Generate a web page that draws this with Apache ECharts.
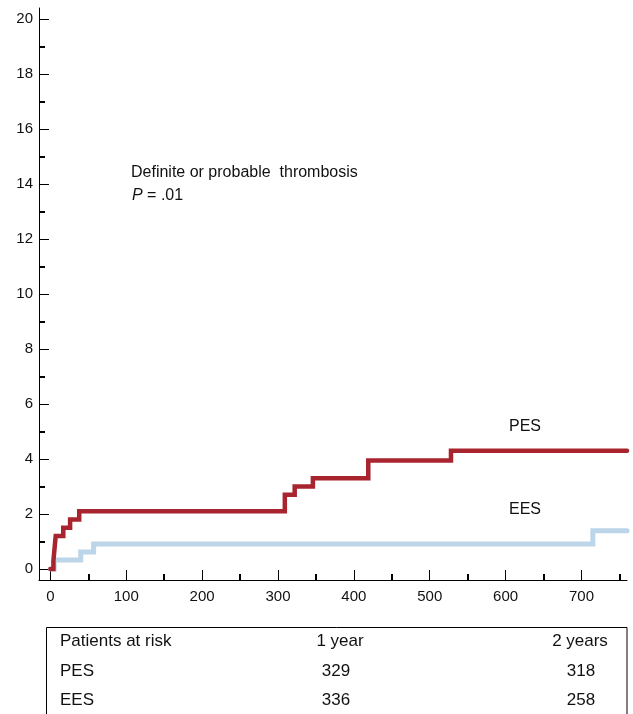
<!DOCTYPE html>
<html>
<head>
<meta charset="utf-8">
<script src="https://cdn.jsdelivr.net/npm/echarts@6/dist/echarts.min.js"></script>
<style>
html,body{margin:0;padding:0;background:#fff;}
#chart{width:633px;height:714px;}
</style>
</head>
<body>
<div id="chart"></div>
<script>
// Kaplan-Meier style cumulative incidence (%) of definite or probable thrombosis
const pesDays  = [0, 4, 5, 6, 7, 17, 26, 38, 309, 322, 346, 419, 528, 760];
const pesRates = [0, 0.3, 0.6, 0.9, 1.2, 1.5, 1.8, 2.1, 2.7, 3.0, 3.3, 3.95, 4.3, 4.3];
const eesDays  = [0, 5, 40, 57, 715, 760];
const eesRates = [0, 0.33, 0.62, 0.91, 1.39, 1.39];

const xMajorTicks = [0, 100, 200, 300, 400, 500, 600, 700];
const xMinorTicks = [50, 150, 250, 350, 450, 550, 650, 750];
const yMajorTicks = [0, 2, 4, 6, 8, 10, 12, 14, 16, 18, 20];
const yMinorTicks = [1, 3, 5, 7, 9, 11, 13, 15, 17, 19];

const riskHeader = ['Patients at risk', '1 year', '2 years'];
const riskGroups = ['PES', 'EES'];
const riskYear1  = [329, 336];
const riskYear2  = [318, 258];

const FONT = "'Liberation Sans', Arial, Helvetica, sans-serif";
const RED = '#a8242f';
const BLUE = '#bcd5e9';

const pesData = pesDays.map((d, i) => [d, pesRates[i]]);
const eesData = eesDays.map((d, i) => [d, eesRates[i]]);

const chart = echarts.init(document.getElementById('chart'), null, {renderer: 'canvas'});

const xRange = {min: -15, max: 760};
const yRange = {min: -0.4, max: 20.4};

const tableTop = 627;
const rowY = [641, 671, 700];
const colX = [60, 340, 580];
const TF = '17px ' + FONT;

const graphics = [
  {type: 'rect', shape: {x: 46.5, y: tableTop + 0.5, width: 580.5, height: 120},
   style: {fill: 'none', stroke: '#000', lineWidth: 1}, silent: true},
  {type: 'text', x: 131, y: 173, style: {text: 'Definite or probable  thrombosis', font: '16px ' + FONT, fill: '#111', textVerticalAlign: 'middle'}},
  {type: 'text', x: 132, y: 196, style: {
      text: '{i|P} = .01', font: '16px ' + FONT, fill: '#111', textVerticalAlign: 'middle',
      rich: {i: {fontStyle: 'italic', fontSize: 16, fontFamily: FONT}}}},
  {type: 'text', x: 525, y: 427, style: {text: 'PES', font: '16px ' + FONT, fill: '#111', textAlign: 'center', textVerticalAlign: 'middle'}},
  {type: 'text', x: 525, y: 510, style: {text: 'EES', font: '16px ' + FONT, fill: '#111', textAlign: 'center', textVerticalAlign: 'middle'}},
  {type: 'text', x: colX[0], y: rowY[0], style: {text: riskHeader[0], font: TF, fill: '#111', textVerticalAlign: 'middle'}},
  {type: 'text', x: colX[1], y: rowY[0], style: {text: riskHeader[1], font: TF, fill: '#111', textAlign: 'center', textVerticalAlign: 'middle'}},
  {type: 'text', x: colX[2], y: rowY[0], style: {text: riskHeader[2], font: TF, fill: '#111', textAlign: 'center', textVerticalAlign: 'middle'}}
];
riskGroups.forEach((g, i) => {
  graphics.push({type: 'text', x: colX[0], y: rowY[i + 1], style: {text: g, font: TF, fill: '#111', textVerticalAlign: 'middle'}});
  graphics.push({type: 'text', x: colX[1] - 4, y: rowY[i + 1], style: {text: String(riskYear1[i]), font: TF, fill: '#111', textAlign: 'center', textVerticalAlign: 'middle'}});
  graphics.push({type: 'text', x: colX[2] + 1, y: rowY[i + 1], style: {text: String(riskYear2[i]), font: TF, fill: '#111', textAlign: 'center', textVerticalAlign: 'middle'}});
});

const option = {
  backgroundColor: '#fff',
  animation: false,
  grid: {left: 39, right: 6, top: 8, bottom: 134, containLabel: false},
  xAxis: [
    {
      type: 'value', min: xRange.min, max: xRange.max, position: 'bottom',
      axisLine: {show: true, onZero: false, lineStyle: {color: '#000', width: 1}},
      axisTick: {show: true, inside: true, length: 10, customValues: xMajorTicks, lineStyle: {color: '#000', width: 1}},
      axisLabel: {show: true, customValues: xMajorTicks, margin: 9, fontSize: 15, fontFamily: FONT, color: '#111'},
      splitLine: {show: false}
    },
    {
      type: 'value', min: xRange.min, max: xRange.max, position: 'bottom', offset: 0,
      axisLine: {show: false, onZero: false},
      axisTick: {show: true, inside: true, length: 6, customValues: xMinorTicks, lineStyle: {color: '#000', width: 2}},
      axisLabel: {show: false},
      splitLine: {show: false}
    }
  ],
  yAxis: [
    {
      type: 'value', min: yRange.min, max: yRange.max, position: 'left',
      axisLine: {show: true, onZero: false, lineStyle: {color: '#000', width: 1}},
      axisTick: {show: true, inside: true, length: 10, customValues: yMajorTicks, lineStyle: {color: '#000', width: 1}},
      axisLabel: {show: true, customValues: yMajorTicks, margin: 6, fontSize: 15, fontFamily: FONT, color: '#111'},
      splitLine: {show: false}
    },
    {
      type: 'value', min: yRange.min, max: yRange.max, position: 'left', offset: 0,
      axisLine: {show: false, onZero: false},
      axisTick: {show: true, inside: true, length: 6, customValues: yMinorTicks, lineStyle: {color: '#000', width: 2}},
      axisLabel: {show: false},
      splitLine: {show: false}
    }
  ],
  series: [
    {
      name: 'EES', type: 'line', step: 'end', data: eesData, xAxisIndex: 0, yAxisIndex: 0,
      showSymbol: false, symbol: 'none', z: 2,
      lineStyle: {color: BLUE, width: 5, cap: 'round', join: 'miter'}
    },
    {
      name: 'PES', type: 'line', step: 'end', data: pesData, xAxisIndex: 0, yAxisIndex: 0,
      showSymbol: false, symbol: 'none', z: 3,
      lineStyle: {color: RED, width: 4.5, cap: 'round', join: 'miter'}
    }
  ],
  graphic: graphics
};

chart.setOption(option);
</script>
</body>
</html>
